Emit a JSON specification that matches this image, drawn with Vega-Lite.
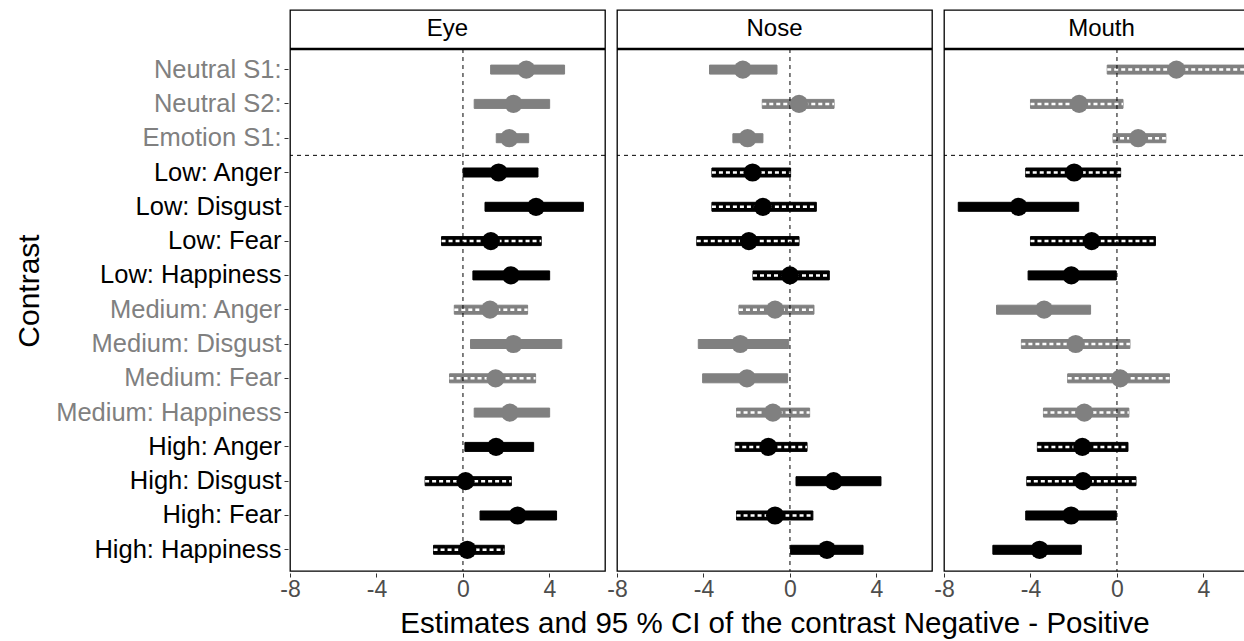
{
  "$schema": "https://vega.github.io/schema/vega-lite/v6.json",
  "padding": {"left": 14, "top": 9, "right": 0, "bottom": 0},
  "spacing": 8,
  "config": {
    "font": "Liberation Sans",
    "view": {"stroke": "black", "strokeWidth": 1.3},
    "axis": {"grid": false, "domain": false, "tickColor": "#333333", "tickSize": 4, "labelColor": "#4d4d4d", "titleColor": "black", "titleFontWeight": "normal", "labelLimit": 0}
  },
  "data": {"values": [
      {"region": "Eye", "contrast": "Neutral S1:", "est": 2.93, "lo": 1.28, "hi": 4.70, "tone": "grey", "sig": 1},
      {"region": "Eye", "contrast": "Neutral S2:", "est": 2.34, "lo": 0.52, "hi": 4.01, "tone": "grey", "sig": 1},
      {"region": "Eye", "contrast": "Emotion S1:", "est": 2.14, "lo": 1.54, "hi": 3.04, "tone": "grey", "sig": 1},
      {"region": "Eye", "contrast": "Low: Anger", "est": 1.65, "lo": 0.01, "hi": 3.47, "tone": "black", "sig": 1},
      {"region": "Eye", "contrast": "Low: Disgust", "est": 3.38, "lo": 1.02, "hi": 5.57, "tone": "black", "sig": 1},
      {"region": "Eye", "contrast": "Low: Fear", "est": 1.29, "lo": -0.99, "hi": 3.62, "tone": "black", "sig": 0},
      {"region": "Eye", "contrast": "Low: Happiness", "est": 2.22, "lo": 0.46, "hi": 4.01, "tone": "black", "sig": 1},
      {"region": "Eye", "contrast": "Medium: Anger", "est": 1.25, "lo": -0.40, "hi": 2.99, "tone": "grey", "sig": 0},
      {"region": "Eye", "contrast": "Medium: Disgust", "est": 2.34, "lo": 0.35, "hi": 4.57, "tone": "grey", "sig": 1},
      {"region": "Eye", "contrast": "Medium: Fear", "est": 1.51, "lo": -0.62, "hi": 3.36, "tone": "grey", "sig": 0},
      {"region": "Eye", "contrast": "Medium: Happiness", "est": 2.17, "lo": 0.52, "hi": 4.01, "tone": "grey", "sig": 1},
      {"region": "Eye", "contrast": "High: Anger", "est": 1.53, "lo": 0.09, "hi": 3.27, "tone": "black", "sig": 1},
      {"region": "Eye", "contrast": "High: Disgust", "est": 0.12, "lo": -1.75, "hi": 2.24, "tone": "black", "sig": 0},
      {"region": "Eye", "contrast": "High: Fear", "est": 2.53, "lo": 0.79, "hi": 4.33, "tone": "black", "sig": 1},
      {"region": "Eye", "contrast": "High: Happiness", "est": 0.20, "lo": -1.36, "hi": 1.91, "tone": "black", "sig": 0},
      {"region": "Nose", "contrast": "Neutral S1:", "est": -2.18, "lo": -3.72, "hi": -0.60, "tone": "grey", "sig": 1},
      {"region": "Nose", "contrast": "Neutral S2:", "est": 0.42, "lo": -1.28, "hi": 2.04, "tone": "grey", "sig": 0},
      {"region": "Nose", "contrast": "Emotion S1:", "est": -1.96, "lo": -2.64, "hi": -1.25, "tone": "grey", "sig": 1},
      {"region": "Nose", "contrast": "Low: Anger", "est": -1.73, "lo": -3.61, "hi": 0.03, "tone": "black", "sig": 0},
      {"region": "Nose", "contrast": "Low: Disgust", "est": -1.25, "lo": -3.61, "hi": 1.22, "tone": "black", "sig": 0},
      {"region": "Nose", "contrast": "Low: Fear", "est": -1.90, "lo": -4.31, "hi": 0.42, "tone": "black", "sig": 0},
      {"region": "Nose", "contrast": "Low: Happiness", "est": 0.0, "lo": -1.71, "hi": 1.82, "tone": "black", "sig": 0},
      {"region": "Nose", "contrast": "Medium: Anger", "est": -0.69, "lo": -2.36, "hi": 1.11, "tone": "grey", "sig": 0},
      {"region": "Nose", "contrast": "Medium: Disgust", "est": -2.30, "lo": -4.24, "hi": -0.06, "tone": "grey", "sig": 1},
      {"region": "Nose", "contrast": "Medium: Fear", "est": -1.99, "lo": -4.04, "hi": -0.11, "tone": "grey", "sig": 1},
      {"region": "Nose", "contrast": "Medium: Happiness", "est": -0.79, "lo": -2.47, "hi": 0.91, "tone": "grey", "sig": 0},
      {"region": "Nose", "contrast": "High: Anger", "est": -1.00, "lo": -2.53, "hi": 0.79, "tone": "black", "sig": 0},
      {"region": "Nose", "contrast": "High: Disgust", "est": 2.02, "lo": 0.28, "hi": 4.21, "tone": "black", "sig": 1},
      {"region": "Nose", "contrast": "High: Fear", "est": -0.69, "lo": -2.47, "hi": 1.06, "tone": "black", "sig": 0},
      {"region": "Nose", "contrast": "High: Happiness", "est": 1.71, "lo": 0.03, "hi": 3.38, "tone": "black", "sig": 1},
      {"region": "Mouth", "contrast": "Neutral S1:", "est": 2.75, "lo": -0.45, "hi": 5.91, "tone": "grey", "sig": 0},
      {"region": "Mouth", "contrast": "Neutral S2:", "est": -1.75, "lo": -4.00, "hi": 0.28, "tone": "grey", "sig": 0},
      {"region": "Mouth", "contrast": "Emotion S1:", "est": 0.98, "lo": -0.18, "hi": 2.26, "tone": "grey", "sig": 0},
      {"region": "Mouth", "contrast": "Low: Anger", "est": -1.98, "lo": -4.22, "hi": 0.17, "tone": "black", "sig": 0},
      {"region": "Mouth", "contrast": "Low: Disgust", "est": -4.55, "lo": -7.34, "hi": -1.77, "tone": "black", "sig": 1},
      {"region": "Mouth", "contrast": "Low: Fear", "est": -1.17, "lo": -4.00, "hi": 1.78, "tone": "black", "sig": 0},
      {"region": "Mouth", "contrast": "Low: Happiness", "est": -2.11, "lo": -4.11, "hi": -0.03, "tone": "black", "sig": 1},
      {"region": "Mouth", "contrast": "Medium: Anger", "est": -3.37, "lo": -5.57, "hi": -1.22, "tone": "grey", "sig": 1},
      {"region": "Mouth", "contrast": "Medium: Disgust", "est": -1.91, "lo": -4.42, "hi": 0.60, "tone": "grey", "sig": 0},
      {"region": "Mouth", "contrast": "Medium: Fear", "est": 0.15, "lo": -2.28, "hi": 2.43, "tone": "grey", "sig": 0},
      {"region": "Mouth", "contrast": "Medium: Happiness", "est": -1.51, "lo": -3.40, "hi": 0.55, "tone": "grey", "sig": 0},
      {"region": "Mouth", "contrast": "High: Anger", "est": -1.60, "lo": -3.68, "hi": 0.51, "tone": "black", "sig": 0},
      {"region": "Mouth", "contrast": "High: Disgust", "est": -1.57, "lo": -4.17, "hi": 0.88, "tone": "black", "sig": 0},
      {"region": "Mouth", "contrast": "High: Fear", "est": -2.12, "lo": -4.22, "hi": -0.03, "tone": "black", "sig": 1},
      {"region": "Mouth", "contrast": "High: Happiness", "est": -3.58, "lo": -5.74, "hi": -1.65, "tone": "black", "sig": 1}
  ]},
  "facet": {"column": {"field": "region", "type": "nominal", "sort": ["Eye", "Nose", "Mouth"], "title": "Estimates and 95 % CI of the contrast Negative - Positive",
    "header": {"labels": false, "titleOrient": "bottom", "titleFontSize": 29.5, "titleFontWeight": "normal", "titleColor": "black", "titleFont": "Liberation Sans", "titlePadding": -1}}},
  "spec": {
    "width": 315, "height": 561,
    "layer": [
      {"mark": {"type": "bar", "size": 9, "strokeWidth": 1},
       "encoding": {
         "x": {"field": "lo", "type": "quantitative", "scale": {"domain": [-8, 6.57], "nice": false, "zero": false}, "axis": {"values": [-8, -4, 0, 4], "labelFontSize": 23, "labelPadding": 1, "labelFlush": false, "labelExpr": "'' + datum.value", "title": null}},
         "x2": {"field": "hi"},
         "y": {"field": "contrast", "type": "nominal", "scale": {"type": "band", "paddingInner": 0, "paddingOuter": 0.178, "align": 0.668, "domain": ["strip", "Neutral S1:", "Neutral S2:", "Emotion S1:", "Low: Anger", "Low: Disgust", "Low: Fear", "Low: Happiness", "Medium: Anger", "Medium: Disgust", "Medium: Fear", "Medium: Happiness", "High: Anger", "High: Disgust", "High: Fear", "High: Happiness"]},
               "axis": {"title": "Contrast", "titleFontSize": 30, "labelFontSize": 25.5, "labelPadding": 3, "titlePadding": 44, "labelExpr": "datum.value === 'strip' ? '' : datum.label", "tickColor": {"expr": "datum.value === 'strip' ? 'transparent' : '#333333'"}, "labelColor": {"expr": "test(/^(Low|High)/, datum.label) ? 'black' : '#808080'"}}},
         "color": {"field": "tone", "type": "nominal", "scale": {"domain": ["grey", "black"], "range": ["#808080", "#000000"]}, "legend": null},
         "stroke": {"field": "tone", "type": "nominal", "scale": {"domain": ["grey", "black"], "range": ["#808080", "#000000"]}, "legend": null}
       }},
      {"transform": [{"filter": "datum.sig === 0"}], "mark": {"type": "rule", "color": "white", "strokeWidth": 2.5, "strokeDash": [4, 3]},
       "encoding": {"x": {"field": "lo", "type": "quantitative"}, "x2": {"field": "hi"}, "y": {"field": "contrast", "type": "nominal"}}},
      {"transform": [{"filter": "datum.contrast === 'Neutral S1:'"}], "mark": {"type": "rule", "strokeDash": [4, 4], "color": "black", "strokeWidth": 1},
       "encoding": {"x": {"datum": 0}, "y": {"datum": "strip", "bandPosition": 0.9}, "y2": {"datum": "High: Happiness", "bandPosition": 1.12}}},
      {"transform": [{"filter": "datum.contrast === 'Neutral S1:'"}], "mark": {"type": "rule", "strokeDash": [4, 4], "color": "black", "strokeWidth": 1},
       "encoding": {"y": {"datum": "Low: Anger", "bandPosition": 0}}},
      {"transform": [{"filter": "datum.contrast === 'Neutral S1:'"}], "mark": {"type": "rule", "color": "black", "strokeWidth": 2.6},
       "encoding": {"y": {"datum": "strip", "bandPosition": 0.9}}},
      {"transform": [{"filter": "datum.contrast === 'Neutral S1:'"}], "mark": {"type": "text", "fontSize": 24, "color": "black"},
       "encoding": {"x": {"datum": -0.715}, "y": {"datum": "strip", "bandPosition": 0.33}, "text": {"field": "region", "type": "nominal"}}},
      {"mark": {"type": "point", "filled": true, "size": 330, "opacity": 1},
       "encoding": {"x": {"field": "est", "type": "quantitative"}, "y": {"field": "contrast", "type": "nominal"},
         "color": {"field": "tone", "type": "nominal", "legend": null}}}
    ]
  }
}
